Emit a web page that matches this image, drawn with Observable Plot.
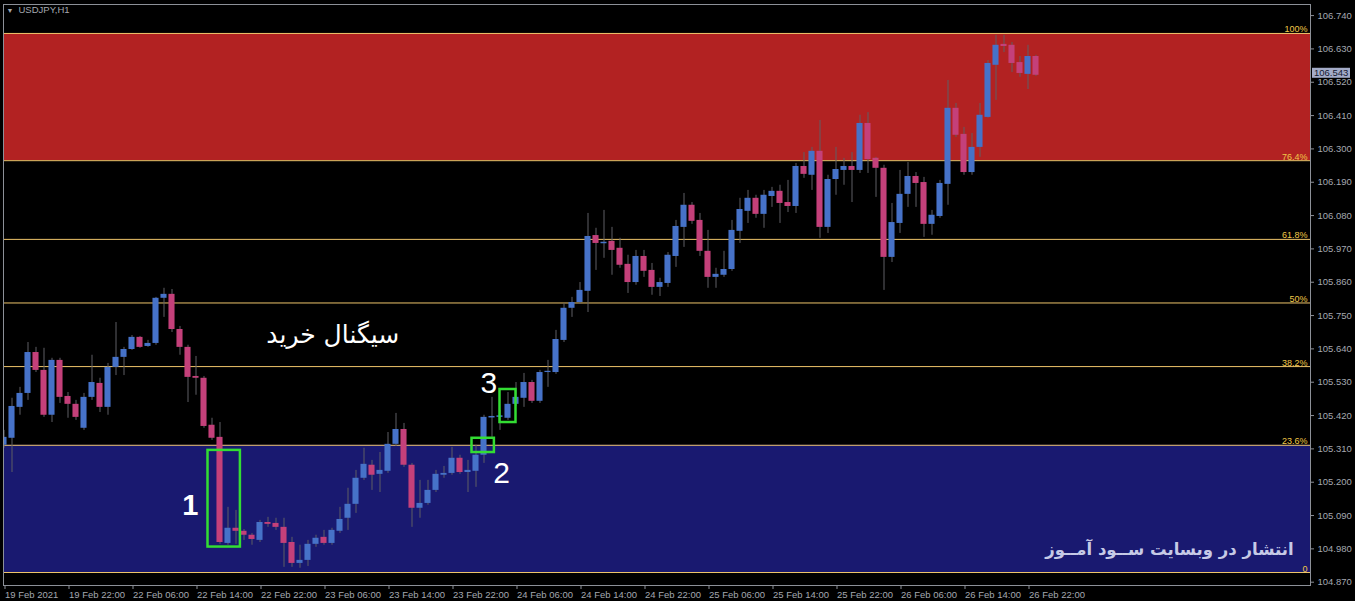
<!DOCTYPE html>
<html><head><meta charset="utf-8">
<script src="https://cdn.jsdelivr.net/npm/d3@7"></script>
<script src="https://cdn.jsdelivr.net/npm/@observablehq/plot@0.6"></script>
<style>
html,body{margin:0;padding:0;background:#000;}
#chart{width:1355px;height:601px;overflow:hidden;}
</style></head><body><div id="chart"></div>
<script>
// ---- data (USDJPY H1, bar 0 = 19 Feb 2021 14:00) ----
const symbol = "USDJPY,H1";
const open = [105.322,105.345,105.447,105.493,105.628,105.569,105.421,105.602,105.483,105.457,
105.378,105.480,105.526,105.447,105.579,105.612,105.638,105.678,105.648,105.658,
105.807,105.820,105.704,105.645,105.549,105.543,105.388,105.348,104.998,105.048,
105.038,105.025,105.008,105.067,105.064,105.051,105.001,104.932,104.942,104.995,
105.018,104.998,105.038,105.081,105.127,105.213,105.256,105.226,105.236,105.325,
105.374,105.256,105.114,105.130,105.173,105.223,105.229,105.279,105.232,105.236,
105.289,105.412,105.414,105.411,105.457,105.477,105.529,105.467,105.562,105.562,
105.668,105.774,105.793,105.830,106.014,105.987,105.995,105.972,105.919,105.859,
105.945,105.899,105.843,105.856,105.945,106.041,106.114,106.064,105.962,105.876,
105.883,105.902,106.028,106.094,106.137,106.084,106.143,106.160,106.123,106.110,
106.242,106.213,106.292,106.041,106.199,106.229,106.242,106.229,106.384,106.269,
106.236,105.942,106.054,106.150,106.209,106.189,106.051,106.077,106.183,106.434,
106.348,106.222,106.305,106.404,106.576,106.645,106.642,106.585,106.546,106.605];
const close = [105.348,105.450,105.493,105.628,105.569,105.421,105.602,105.480,105.457,105.414,
105.480,105.529,105.447,105.579,105.612,105.638,105.678,105.645,105.658,105.807,
105.820,105.704,105.645,105.546,105.543,105.384,105.345,105.001,105.048,105.038,
105.025,105.011,105.067,105.061,105.051,104.998,104.932,104.942,104.995,105.015,
104.998,105.041,105.077,105.127,105.213,105.259,105.223,105.239,105.325,105.374,
105.256,105.114,105.130,105.173,105.226,105.229,105.279,105.232,105.239,105.289,
105.414,105.417,105.419,105.457,105.480,105.529,105.467,105.562,105.566,105.671,
105.774,105.793,105.833,106.011,105.988,105.992,105.965,105.916,105.859,105.945,
105.896,105.843,105.859,105.949,106.044,106.114,106.061,105.962,105.876,105.886,
105.902,106.031,106.100,106.137,106.084,106.147,106.160,106.120,106.110,106.242,
106.216,106.292,106.041,106.199,106.232,106.242,106.229,106.384,106.265,106.236,
105.942,106.057,106.150,106.209,106.186,106.051,106.081,106.186,106.434,106.345,
106.222,106.305,106.411,106.582,106.642,106.638,106.582,106.549,106.605,106.543];
const high = [105.371,105.477,105.513,105.661,105.645,105.642,105.609,105.609,105.496,105.470,
105.493,105.619,105.543,105.592,105.727,105.645,105.684,105.681,105.668,105.810,
105.840,105.836,105.714,105.652,105.615,105.549,105.411,105.397,105.117,105.107,
105.044,105.031,105.074,105.084,105.081,105.081,105.018,104.992,105.008,105.025,
105.041,105.048,105.117,105.180,105.239,105.312,105.272,105.298,105.364,105.427,
105.394,105.262,105.206,105.206,105.239,105.252,105.315,105.289,105.272,105.322,
105.421,105.480,105.437,105.496,105.529,105.559,105.536,105.569,105.602,105.701,
105.790,105.810,105.859,106.087,106.038,106.097,106.041,106.005,105.949,105.965,
105.965,105.922,105.873,105.958,106.064,106.153,106.123,106.087,106.031,105.906,
105.962,106.064,106.137,106.163,106.147,106.163,106.173,106.180,106.196,106.252,
106.288,106.305,106.394,106.213,106.305,106.269,106.288,106.411,106.420,106.272,
106.246,106.120,106.229,106.255,106.222,106.206,106.097,106.196,106.526,106.450,
106.371,106.351,106.450,106.592,106.675,106.675,106.651,106.605,106.642,106.609];
const low = [105.312,105.232,105.421,105.470,105.562,105.414,105.397,105.460,105.411,105.404,
105.371,105.470,105.430,105.421,105.552,105.552,105.635,105.642,105.645,105.652,
105.744,105.694,105.619,105.463,105.487,105.378,105.338,104.995,104.992,104.995,
105.008,104.992,105.001,105.051,105.041,104.919,104.919,104.916,104.922,104.985,
104.992,104.992,105.031,105.041,105.097,105.206,105.173,105.166,105.229,105.318,
105.249,105.051,105.081,105.124,105.166,105.213,105.223,105.226,105.166,105.183,
105.262,105.348,105.371,105.404,105.450,105.447,105.460,105.460,105.513,105.556,
105.661,105.744,105.787,105.760,105.899,105.939,105.883,105.906,105.823,105.850,
105.876,105.817,105.813,105.843,105.909,105.975,106.051,105.945,105.840,105.840,
105.876,105.896,105.988,106.054,106.071,106.038,106.107,106.054,106.090,106.087,
106.203,106.163,106.005,106.021,106.147,106.180,106.123,106.219,106.219,106.140,
105.833,105.925,106.021,106.107,106.107,106.008,106.015,106.071,106.114,106.338,
106.213,106.213,106.272,106.401,106.460,106.618,106.552,106.536,106.496,106.539];

const tickBars = [0,8,16,24,32,40,48,56,64,72,80,88,96,104,112,120,128];
const tickLabels = ["19 Feb 2021","19 Feb 22:00","22 Feb 06:00","22 Feb 14:00","22 Feb 22:00",
"23 Feb 06:00","23 Feb 14:00","23 Feb 22:00","24 Feb 06:00","24 Feb 14:00","24 Feb 22:00",
"25 Feb 06:00","25 Feb 14:00","25 Feb 22:00","26 Feb 06:00","26 Feb 14:00","26 Feb 22:00"];
const priceTicks = [104.870,104.980,105.090,105.200,105.310,105.420,105.530,105.640,105.750,
105.860,105.970,106.080,106.190,106.300,106.410,106.520,106.630,106.740];

const fibLow = 104.902, fibHigh = 106.681;
const fibRatios = [0, 0.236, 0.382, 0.5, 0.618, 0.764, 1];
const fibLabels = ["0","23.6%","38.2%","50%","61.8%","76.4%","100%"];
const zoneFrom = [0.764, 0];      // ratio ranges of shaded zones
const zoneTo = [1, 0.236];
const zoneColors = ["#b22222", "#191970"];

const lastPrice = 106.543;

// annotations (bar index / price)
const boxBar1 = [25.5, 58.5, 62.0];
const boxBar2 = [29.55, 61.3, 64.0];
const boxPrice1 = [104.986, 105.298, 105.397];
const boxPrice2 = [105.305, 105.345, 105.506];
const numLabels = ["1","2","3"];
const numBar = [23.3, 62.2, 60.6];
const numPrice = [105.124, 105.229, 105.526];
const signalText = "سیگنال خرید";
const signalBar = 41.1, signalPrice = 105.685;
const watermark = "انتشار در وبسایت ســود آمــوز";
const watermarkBar = 161.2, watermarkPrice = 104.978;

// ---- build ----
const candles = open.map((o,i)=>({i, o, h:high[i], l:low[i], c:close[i]}));
const fib = fibRatios.map((r,k)=>({v: fibLow + r*(fibHigh-fibLow), label: fibLabels[k]}));
const zones = zoneFrom.map((r,k)=>({y1: fibLow + r*(fibHigh-fibLow), y2: fibLow + zoneTo[k]*(fibHigh-fibLow), fill: zoneColors[k]}));
const boxes = boxBar1.map((b,k)=>({x1:b, x2:boxBar2[k], y1:boxPrice1[k], y2:boxPrice2[k]}));
const nums = numLabels.map((t,k)=>({t, x:numBar[k], y:numPrice[k]}));
const xDomain = [-0.0625, 163.3125];
const axisGray = "#8c9098";
const textGray = "#a4a8b0";
const sans = "'Liberation Sans', Arial, sans-serif";

const plot = Plot.plot({
  width:1355, height:601,
  marginLeft:3, marginRight:45, marginTop:4, marginBottom:16,
  style:{background:"#000", color:textGray, fontFamily:sans, fontSize:"9.5px"},
  x:{domain:xDomain, axis:null},
  y:{domain:[104.8591,106.7766], axis:null},
  marks:[
    Plot.rect(zones, {x1:()=>xDomain[0], x2:()=>xDomain[1], y1:"y1", y2:"y2", fill:"fill"}),
    Plot.ruleY(fib, {y:"v", stroke:"#eec46a", strokeWidth:1}),
    Plot.text(fib, {x:()=>xDomain[1], y:"v", text:"label", textAnchor:"end", lineAnchor:"bottom", dx:-3, dy:-1, fill:"#f0c848", fontSize:9}),
    Plot.ruleX(candles, {x:"i", y1:"l", y2:"h", stroke:"#5e5e64", strokeWidth:1, clip:true}),
    Plot.rect(candles, {x1:d=>d.i-0.38, x2:d=>d.i+0.38, y1:d=>Math.min(d.o,d.c), y2:d=>Math.max(d.o,d.c),
      fill:d=>d.c>=d.o?"#4672c8":"#c4407a", clip:true}),
    Plot.rect(boxes, {x1:"x1", x2:"x2", y1:"y1", y2:"y2", fill:"none", stroke:"#33dd33", strokeWidth:2.5}),
    Plot.text(nums.slice(0,1), {x:"x", y:"y", text:"t", fill:"#ffffff", fontSize:29, fontWeight:"bold", fontFamily:sans}),
    Plot.text(nums.slice(1), {x:"x", y:"y", text:"t", fill:"#ffffff", fontSize:30, fontFamily:sans}),
    Plot.text([signalText], {x:()=>signalBar, y:()=>signalPrice, text:d=>d, fill:"#ffffff", fontSize:25, fontFamily:"'DejaVu Sans', sans-serif"}),
    Plot.text([watermark], {x:()=>watermarkBar, y:()=>watermarkPrice, text:d=>d, textAnchor:"end", fill:"#c6cae6", fontSize:16.5, fontWeight:"bold", fontFamily:"'DejaVu Sans', sans-serif"}),
    Plot.axisY({anchor:"right", ticks:priceTicks, tickFormat:d3.format(".3f"), tickSize:3, tickPadding:4, stroke:axisGray, fill:textGray}),
    Plot.axisX({anchor:"bottom", ticks:tickBars, tickFormat:d=>tickLabels[tickBars.indexOf(d)], tickSize:4, tickPadding:2, textAnchor:"start", dx:1, stroke:axisGray, fill:textGray}),
    Plot.frame({stroke:axisGray}),
    Plot.text(["▼"], {frameAnchor:"top-left", dx:3, dy:4, text:d=>d, fontSize:7, fill:textGray, textAnchor:"start", lineAnchor:"top"}),
    Plot.text([symbol], {frameAnchor:"top-left", dx:15, dy:2, text:d=>d, fontSize:9.5, fill:textGray, textAnchor:"start", lineAnchor:"top"})
  ]
});
document.getElementById("chart").appendChild(plot);

// current price label on the price axis (covers the neighbouring tick label, as in the terminal)
const yPix = plot.scale("y").apply(lastPrice);
const xEdge = plot.scale("x").apply(xDomain[1]);
const g = d3.select(plot).append("g");
g.append("rect").attr("x", xEdge+2).attr("y", yPix-7).attr("width", 38).attr("height", 10).attr("fill", "#a3abc8");
g.append("text").attr("x", xEdge+4).attr("y", yPix-2).attr("dy","0.35em").attr("text-anchor","start").attr("fill","#141830")
  .attr("font-size","9.5px").attr("font-family",sans).text(d3.format(".3f")(lastPrice));
</script></body></html>
